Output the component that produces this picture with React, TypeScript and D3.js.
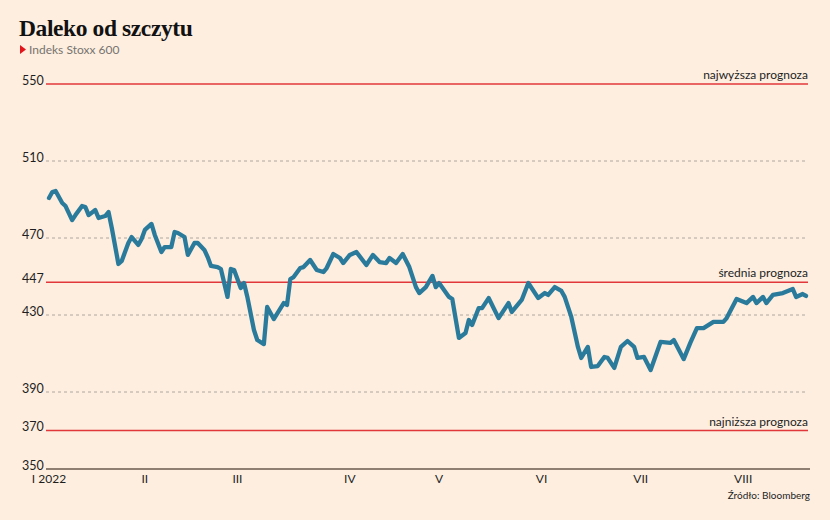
import React, { useEffect, useRef } from 'react';
import * as d3 from 'd3';

// Stoxx 600 closes
const dates = [
  '2022-01-03', '2022-01-04', '2022-01-05', '2022-01-07', '2022-01-08', '2022-01-10', '2022-01-11',
  '2022-01-13', '2022-01-14', '2022-01-15', '2022-01-17', '2022-01-18', '2022-01-20', '2022-01-21',
  '2022-01-22', '2022-01-24', '2022-01-25', '2022-01-27', '2022-01-28', '2022-01-30', '2022-01-31',
  '2022-02-01', '2022-02-03', '2022-02-04', '2022-02-06', '2022-02-07', '2022-02-09', '2022-02-10',
  '2022-02-11', '2022-02-13', '2022-02-14', '2022-02-16', '2022-02-17', '2022-02-19', '2022-02-20',
  '2022-02-21', '2022-02-23', '2022-02-24', '2022-02-26', '2022-02-27', '2022-02-28', '2022-03-02',
  '2022-03-03', '2022-03-04', '2022-03-06', '2022-03-07', '2022-03-09', '2022-03-10', '2022-03-12',
  '2022-03-15', '2022-03-16', '2022-03-17', '2022-03-18', '2022-03-20', '2022-03-21', '2022-03-23',
  '2022-03-25', '2022-03-27', '2022-03-28', '2022-03-30', '2022-04-01', '2022-04-02', '2022-04-04',
  '2022-04-06', '2022-04-09', '2022-04-11', '2022-04-13', '2022-04-15', '2022-04-16', '2022-04-18',
  '2022-04-20', '2022-04-22', '2022-04-24', '2022-04-25', '2022-04-27', '2022-04-29', '2022-04-30',
  '2022-05-01', '2022-05-04', '2022-05-05', '2022-05-07', '2022-05-09', '2022-05-10', '2022-05-11',
  '2022-05-13', '2022-05-14', '2022-05-16', '2022-05-19', '2022-05-22', '2022-05-23', '2022-05-26',
  '2022-05-28', '2022-05-31', '2022-06-02', '2022-06-03', '2022-06-05', '2022-06-07', '2022-06-08',
  '2022-06-10', '2022-06-12', '2022-06-13', '2022-06-15', '2022-06-16', '2022-06-18', '2022-06-20',
  '2022-06-21', '2022-06-23', '2022-06-25', '2022-06-27', '2022-06-29', '2022-06-30', '2022-07-02',
  '2022-07-04', '2022-07-07', '2022-07-10', '2022-07-11', '2022-07-14', '2022-07-16', '2022-07-18',
  '2022-07-20', '2022-07-23', '2022-07-26', '2022-07-27', '2022-07-30', '2022-08-02', '2022-08-04',
  '2022-08-05', '2022-08-07', '2022-08-08', '2022-08-10', '2022-08-13', '2022-08-16', '2022-08-17',
  '2022-08-19', '2022-08-20',
];

const values = [
  490.8, 493.9, 494.4, 488.2, 486.6, 479.3, 481.9,
  486.6, 486.1, 481.9, 484.5, 480.4, 481.4, 483.5,
  475.2, 456.5, 458.1, 467.4, 470.5, 466.4, 469.5,
  474.2, 477.3, 471.6, 462.7, 465.3, 465.3, 473.1,
  472.6, 470.5, 461.2, 467.4, 467.4, 463.8, 460.1,
  455.5, 454.9, 453.9, 439.4, 453.9, 453.4, 444.0,
  446.6, 439.4, 422.2, 417.0, 414.9, 434.2, 427.9,
  436.2, 435.2, 448.7, 449.7, 454.4, 454.9, 458.6,
  453.4, 452.3, 454.4, 461.7, 459.6, 457.0, 461.2,
  462.7, 456.0, 461.2, 457.5, 457.0, 459.6, 457.0,
  461.7, 454.9, 444.5, 441.4, 444.5, 450.3, 444.5,
  446.6, 439.4, 438.3, 418.1, 420.6, 427.4, 424.8,
  433.6, 433.6, 438.8, 428.4, 436.2, 431.6, 437.8,
  446.6, 438.8, 441.4, 440.4, 444.5, 442.5, 439.4,
  429.0, 413.4, 407.7, 413.4, 403.0, 403.5, 408.2,
  407.7, 402.5, 413.4, 416.5, 413.4, 407.7, 408.2,
  401.4, 416.0, 415.5, 417.0, 407.1, 415.5, 423.2,
  423.2, 426.4, 426.4, 428.4, 438.3, 436.2, 439.4,
  436.2, 439.4, 436.2, 440.4, 441.4, 443.5, 439.4,
  440.9, 439.9,
];

const gridTicks = [510, 470, 430, 390];
const forecasts = [
  { value: 550, label: 'najwyższa prognoza' },
  { value: 447, label: 'średnia prognoza' },
  { value: 370, label: 'najniższa prognoza' },
];
const baseTick = 350;

const monthDates = ['2022-01-03', '2022-02-01', '2022-03-01', '2022-04-04', '2022-05-01', '2022-06-01', '2022-07-01', '2022-08-01'];
const monthLabels = ['I 2022', 'II', 'III', 'IV', 'V', 'VI', 'VII', 'VIII'];

const W = 830;
const H = 520;
const SANS = 'Lato, "Noto Sans", sans-serif';

export default function App() {
  const svgRef = useRef<SVGSVGElement>(null);

  useEffect(() => {
    if (!svgRef.current) return;
    const svg = d3.select(svgRef.current);
    svg.selectAll('*').remove();

    const parse = d3.timeParse('%Y-%m-%d');
    const data = dates.map((d, i) => ({ date: parse(d) as Date, value: values[i] }));

    const x = d3.scaleTime()
      .domain([parse('2022-01-03') as Date, parse('2022-08-20') as Date])
      .range([49, 806]);
    const y = d3.scaleLinear().domain([350, 550]).range([469, 84]);

    const gridLeft = 46;
    const gridRight = 808;

    svg.append('rect').attr('width', W).attr('height', H).attr('fill', '#fdeee0');

    // title
    svg.append('text')
      .attr('x', 19).attr('y', 36)
      .style('font-family', '"Liberation Serif", "DejaVu Serif", serif')
      .style('font-weight', 700)
      .style('font-size', '23.5px')
      .style('letter-spacing', '-0.4px')
      .attr('fill', '#111')
      .text('Daleko od szczytu');

    svg.append('path')
      .attr('d', 'M20,45 L26,49.5 L20,54 Z')
      .attr('fill', '#e4141b');

    svg.append('text')
      .attr('x', 29).attr('y', 54)
      .style('font-family', SANS)
      .style('font-size', '12px')
      .attr('fill', '#77736f')
      .text('Indeks Stoxx 600');

    // dashed grid
    svg.append('g').selectAll('line')
      .data(gridTicks)
      .join('line')
      .attr('x1', gridLeft).attr('x2', gridRight)
      .attr('y1', d => y(d)).attr('y2', d => y(d))
      .attr('stroke', '#9d958e')
      .attr('stroke-width', 0.8)
      .attr('stroke-dasharray', '3,3');

    // forecast lines
    const fc = svg.append('g');
    fc.selectAll('line')
      .data(forecasts)
      .join('line')
      .attr('x1', gridLeft).attr('x2', gridRight)
      .attr('y1', d => y(d.value)).attr('y2', d => y(d.value))
      .attr('stroke', '#e2373a')
      .attr('stroke-width', 1.4);
    fc.selectAll('text')
      .data(forecasts)
      .join('text')
      .attr('x', gridRight).attr('y', d => y(d.value) - 5)
      .attr('text-anchor', 'end')
      .style('font-family', SANS)
      .style('font-size', '12px')
      .attr('fill', '#1e1e1e')
      .text(d => d.label);

    // baseline
    svg.append('line')
      .attr('x1', gridLeft).attr('x2', 810)
      .attr('y1', y(baseTick)).attr('y2', y(baseTick))
      .attr('stroke', '#8e7f72')
      .attr('stroke-width', 2);

    // y labels
    const yTicks = [...forecasts.map(f => f.value), ...gridTicks, baseTick];
    svg.append('g').selectAll('text')
      .data(yTicks)
      .join('text')
      .attr('x', 22).attr('y', d => y(d) + 0.5)
      .style('font-family', SANS)
      .style('font-size', '12.5px')
      .attr('fill', '#1e1e1e')
      .text(d => String(d));

    // month labels
    svg.append('g').selectAll('text')
      .data(monthDates)
      .join('text')
      .attr('x', d => x(parse(d) as Date))
      .attr('y', 483)
      .attr('text-anchor', 'middle')
      .style('font-family', SANS)
      .style('font-size', '12px')
      .attr('fill', '#1e1e1e')
      .text((d, i) => monthLabels[i]);

    // the index line
    const line = d3.line<{ date: Date; value: number }>()
      .x(d => x(d.date))
      .y(d => y(d.value));

    svg.append('path')
      .datum(data)
      .attr('fill', 'none')
      .attr('stroke', '#2a7b9b')
      .attr('stroke-width', 4.3)
      .attr('stroke-linejoin', 'round')
      .attr('stroke-linecap', 'round')
      .attr('d', line);

    svg.append('text')
      .attr('x', 810).attr('y', 499)
      .attr('text-anchor', 'end')
      .style('font-family', SANS)
      .style('font-size', '10px')
      .attr('fill', '#1e1e1e')
      .text('Źródło: Bloomberg');
  }, []);

  return (
    <svg
      ref={svgRef}
      width={W}
      height={H}
      style={{ position: 'absolute', left: 0, top: 0, display: 'block' }}
    />
  );
}
